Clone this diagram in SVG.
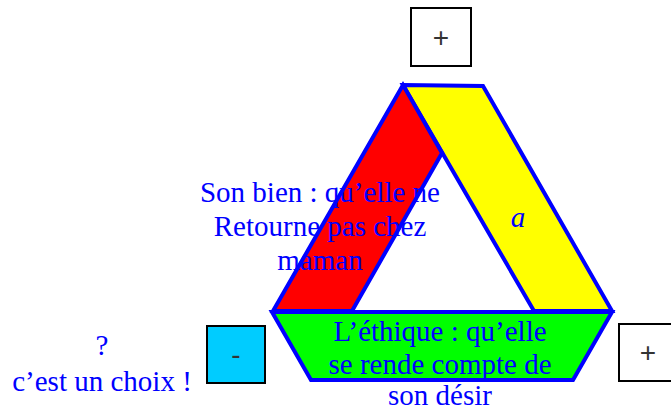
<svg xmlns="http://www.w3.org/2000/svg" width="671" height="412" viewBox="0 0 671 412">
<style>
.band{stroke:#0000FF;stroke-width:4;stroke-linejoin:miter}
.t{font-family:"Liberation Serif",serif;font-size:29px;fill:#0000FF;text-anchor:middle}
.box{stroke:#000;stroke-width:2}
.sym{font-family:"Liberation Sans",sans-serif;font-size:28px;fill:#333;text-anchor:middle;font-weight:300}
</style>
<rect width="671" height="412" fill="#fff"/>
<g id="triangle">
<polygon id="yellow" class="band" fill="#FFFF00" points="403,85 483,86 612,311 534,311"/>
<polygon id="red" class="band" fill="#FF0000" points="403,85 442,153 352,311 273,311"/>
<polygon id="green" class="band" fill="#00FF00" points="272,312 612,312 573,380 311,380"/>
</g>
<g id="labels">
<text class="t" x="320" y="202">Son bien : qu’elle ne</text>
<text class="t" x="320" y="236">Retourne pas chez</text>
<text class="t" x="320" y="270">maman</text>
<text class="t" x="518" y="227" font-style="italic">a</text>
<text class="t" x="440" y="341">L’éthique : qu’elle</text>
<text class="t" x="440" y="374">se rende compte de</text>
<text class="t" x="440" y="405">son désir</text>
<text class="t" x="102" y="355">?</text>
<text class="t" x="102" y="391">c’est un choix !</text>
</g>
<g id="box-top"><rect class="box" x="411" y="8" width="60" height="58" fill="#fff"/><text class="sym" x="441" y="47">+</text></g>
<g id="box-minus"><rect class="box" x="207" y="326" width="58" height="57" fill="#00CCFF"/><text class="sym" x="236" y="364">-</text></g>
<g id="box-right"><rect class="box" x="619" y="324" width="58" height="57" fill="#fff"/><text class="sym" x="648" y="362">+</text></g>
<g id="connectors"/>
</svg>
